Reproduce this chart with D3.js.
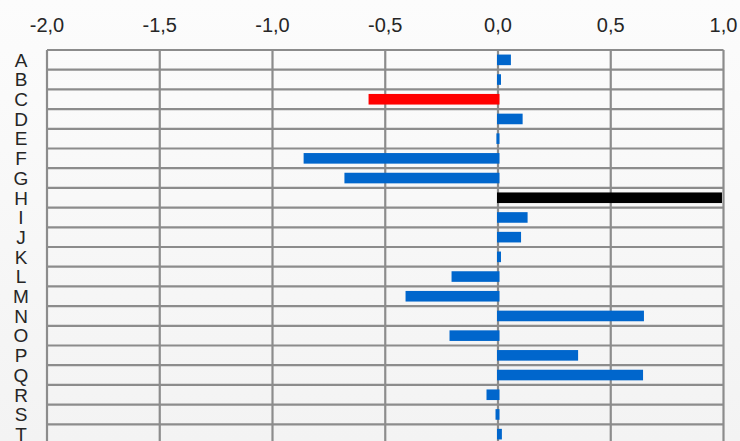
<!DOCTYPE html>
<html><head><meta charset="utf-8">
<script src="https://cdn.jsdelivr.net/npm/d3@7"></script>
<style>
html,body{margin:0;padding:0;}
body{width:740px;height:441px;overflow:hidden;background:linear-gradient(#fcfcfc,#f3f3f3);}
text{font-family:"Liberation Sans",Arial,sans-serif;fill:#262626;}
</style></head><body>
<svg id="c" width="740" height="441"></svg>
<script>
const categories = ["A","B","C","D","E","F","G","H","I","J","K","L","M","N","O","P","Q","R","S","T"];
const values = [0.055,0.011,-0.574,0.107,-0.007,-0.862,-0.681,0.991,0.129,0.100,0.011,-0.206,-0.410,0.645,-0.215,0.353,0.641,-0.051,-0.011,0.015];
const highlight = {C:"#ff0000", H:"#000000"};
const tickValues = [-2,-1.5,-1,-0.5,0,0.5,1];

(function(){
const svg = d3.select("#c");
const mLeft = 47, mRight = 723.5, mTop = 50, step = 19.7;
const x = d3.scaleLinear().domain([-2,1]).range([mLeft,mRight]);
const y = d3.scaleBand().domain(categories).range([mTop, mTop + step*categories.length]).padding(0);
const barH = 10.6;
const fmt = v => d3.format(".1f")(v).replace(".", ",").replace("\u2212","-");

const bounds = categories.map(c => y(c)).concat([y.range()[1]]);
svg.append("g").selectAll("line").data(bounds).join("line")
  .attr("x1", mLeft).attr("x2", mRight)
  .attr("y1", d => d).attr("y2", d => d)
  .attr("stroke", "#8c8c8c").attr("stroke-width", 2.2);

svg.append("g").selectAll("line").data(tickValues).join("line")
  .attr("x1", d => x(d)).attr("x2", d => x(d))
  .attr("y1", mTop).attr("y2", y.range()[1])
  .attr("stroke", "#8c8c8c").attr("stroke-width", 2.2);

svg.append("g").selectAll("rect").data(categories).join("rect")
  .attr("x", (c,i) => values[i] >= 0 ? x(0) - 1 : x(values[i]))
  .attr("width", (c,i) => Math.abs(x(values[i]) - x(0)) + 1.5)
  .attr("y", c => y(c) + (y.bandwidth() - barH)/2)
  .attr("height", barH)
  .attr("fill", c => highlight[c] || "#0066cc");

svg.append("g").selectAll("text").data(tickValues).join("text")
  .attr("x", d => x(d)).attr("y", 32)
  .attr("text-anchor", "middle")
  .style("font-size", "20px")
  .text(d => fmt(d));

svg.append("g").selectAll("text").data(categories).join("text")
  .attr("x", 21).attr("y", c => y(c) + y.bandwidth()/2)
  .attr("dy", "0.36em")
  .attr("text-anchor", "middle")
  .style("font-size", "19px")
  .text(c => c);
})();
</script>
</body></html>
